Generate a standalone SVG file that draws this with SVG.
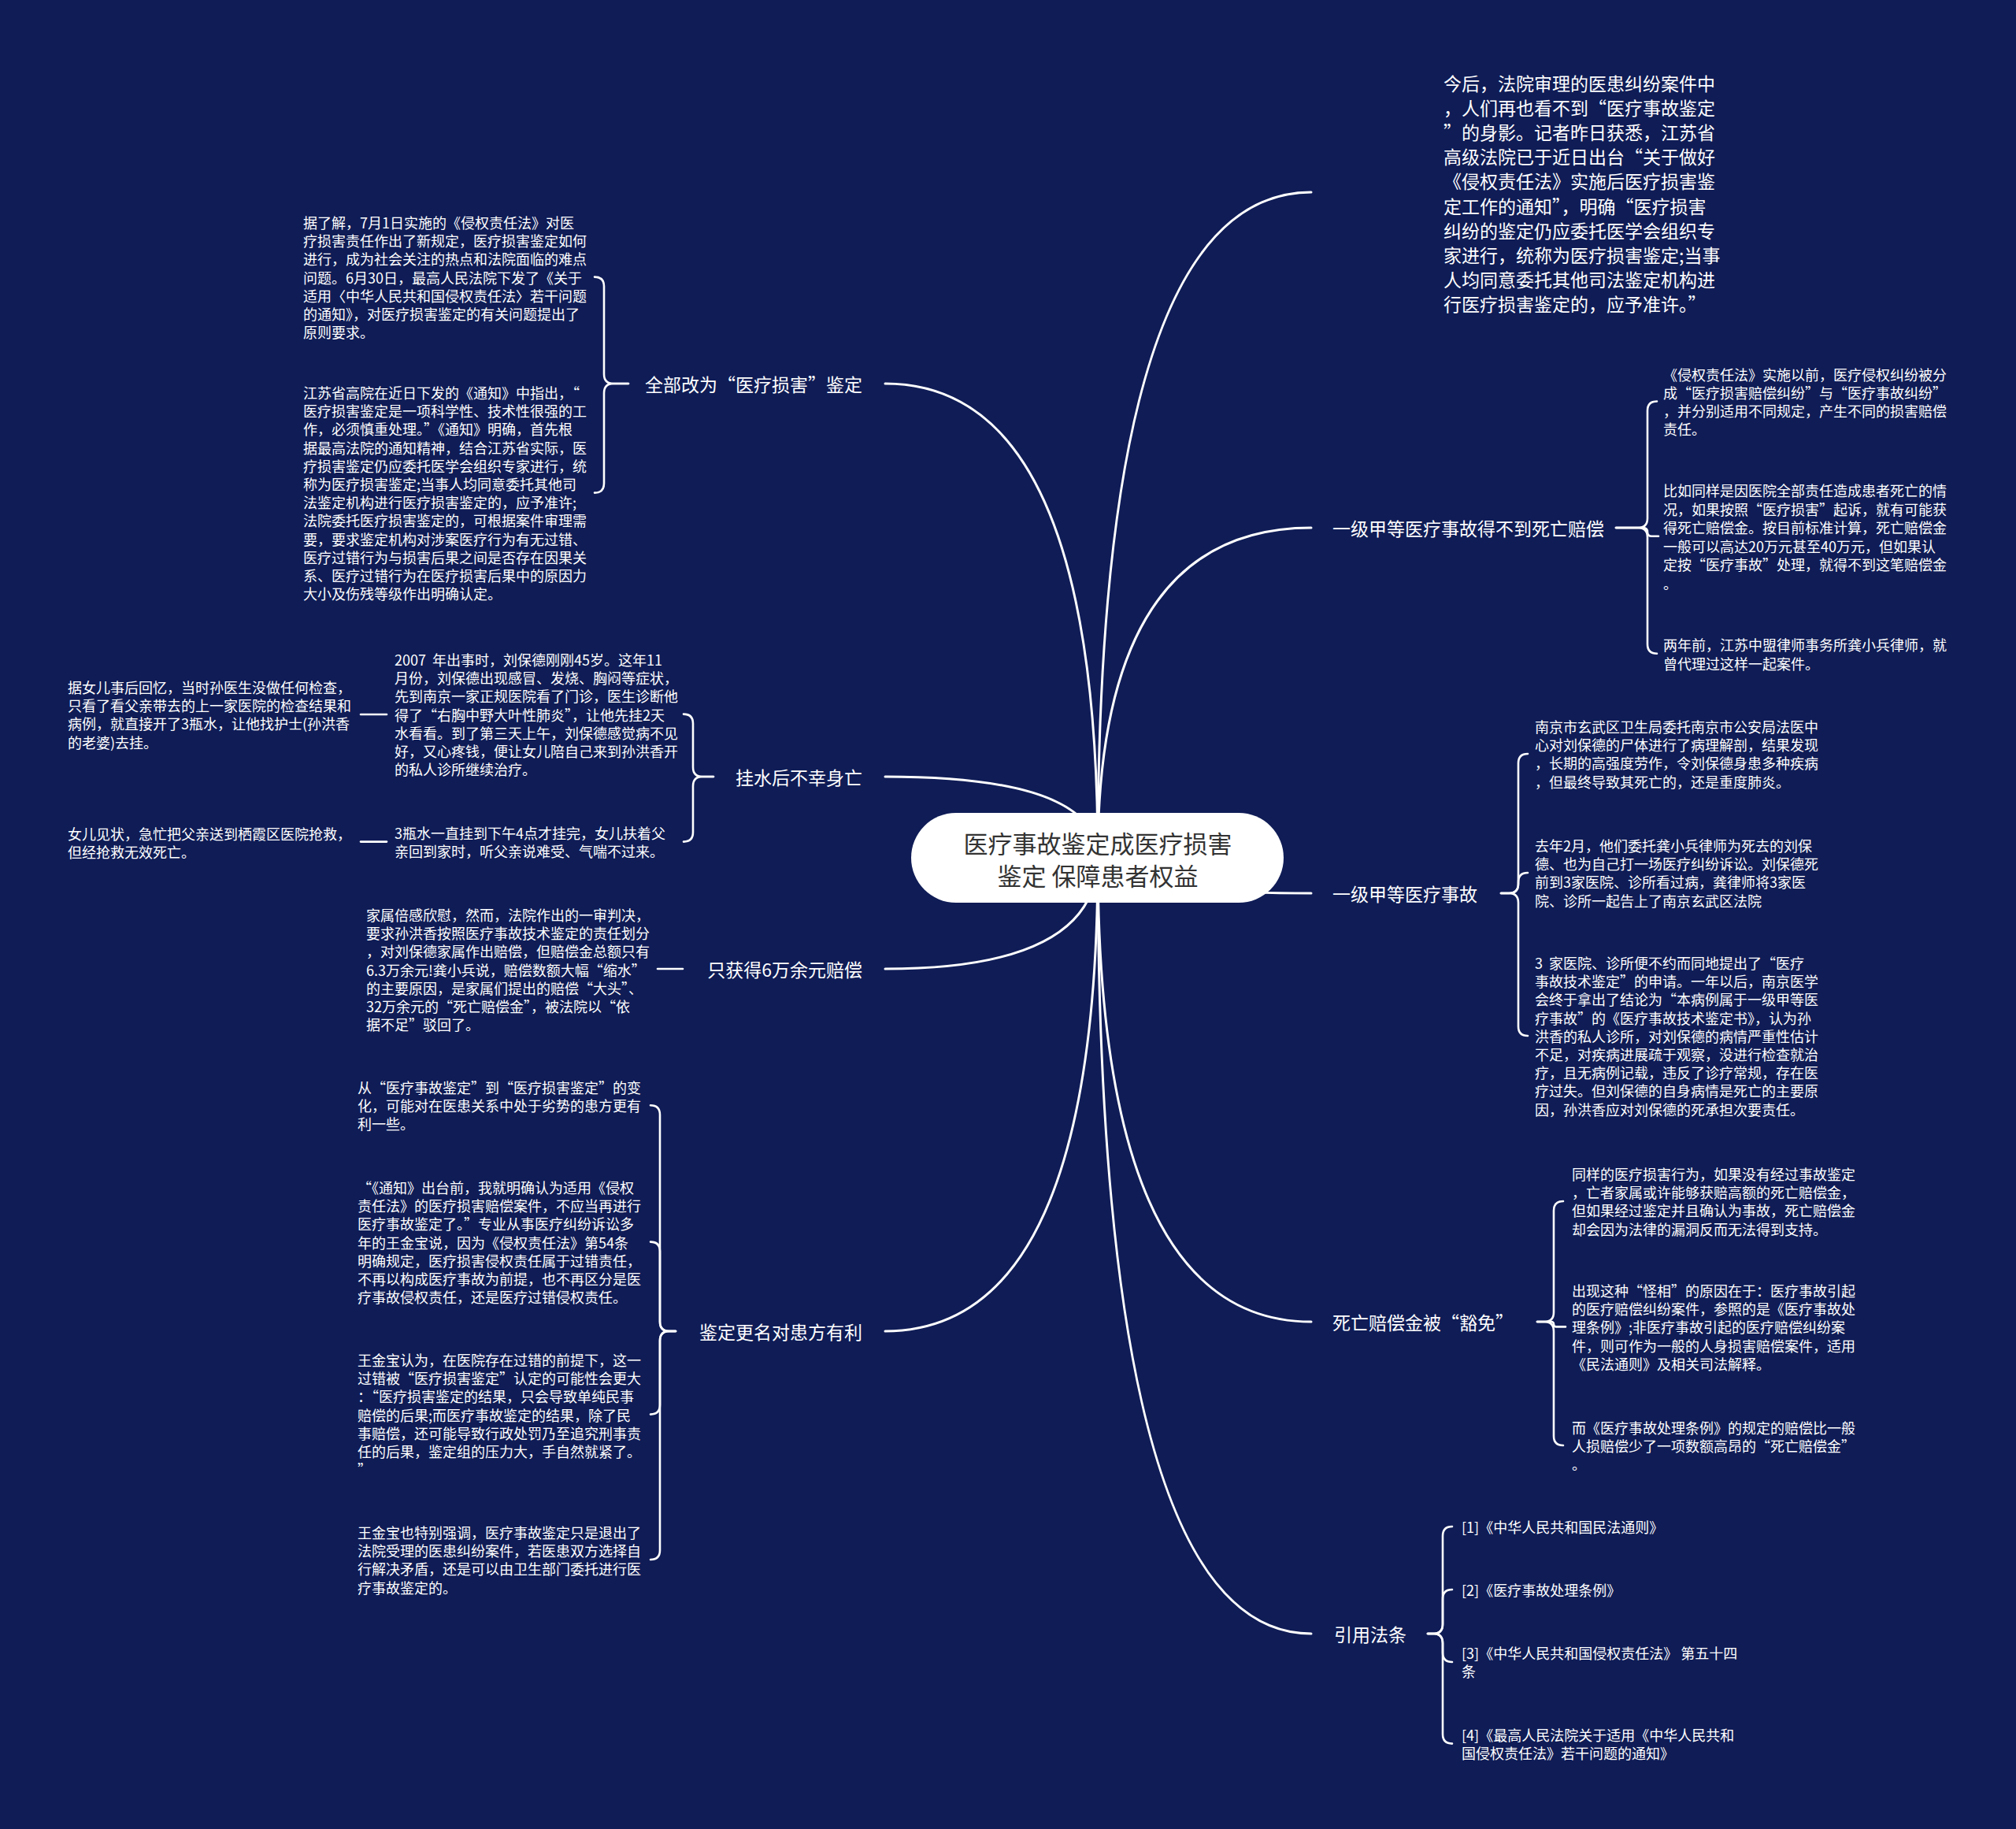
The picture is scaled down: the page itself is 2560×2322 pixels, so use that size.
<svg xmlns="http://www.w3.org/2000/svg" width="2560" height="2322" viewBox="0 0 2560 2322">
<style>
text{font-family:"Noto Sans CJK SC","Microsoft YaHei",sans-serif;dominant-baseline:central;fill:#ffffff}
.conn{fill:none;stroke:#ffffff;stroke-width:3;stroke-linecap:round}
.br{fill:none;stroke:#ffffff;stroke-width:2.6;stroke-linecap:round;stroke-linejoin:round}
.lbl{font-size:23px}
.para{font-size:23px}
.leaf{font-size:18px}
.pre{white-space:pre}
.root-t{font-size:31px;fill:#333333}
</style>
<rect x="0" y="0" width="2560" height="2322" fill="#0f1c56"/>
<g id="connectors">
<path class="conn" d="M1394,1088 Q1394,244 1665,244"/>
<path class="conn" d="M1394,1088 Q1394,670 1665,670"/>
<path class="conn" d="M1394,1088 Q1394,1134 1665,1134"/>
<path class="conn" d="M1394,1088 Q1394,1678 1665,1678"/>
<path class="conn" d="M1394,1088 Q1394,2074 1665,2074"/>
<path class="conn" d="M1394,1088 Q1394,487 1124,487"/>
<path class="conn" d="M1394,1088 Q1394,986 1124,986"/>
<path class="conn" d="M1394,1088 Q1394,1230 1124,1230"/>
<path class="conn" d="M1394,1088 Q1394,1690 1124,1690"/>
<path class="br" d="M798,487 L779,487 Q767,487 767,475 L767,363.6 Q767,351.6 755,351.6"/>
<path class="br" d="M798,487 L779,487 Q767,487 767,499 L767,613.6 Q767,625.6 755,625.6"/>
<path class="br" d="M906,986 L892,986 Q880,986 880,974 L880,918.6 Q880,906.6 868,906.6"/>
<path class="br" d="M906,986 L892,986 Q880,986 880,998 L880,1056.6 Q880,1068.6 868,1068.6"/>
<path class="br" d="M491,907 L458,907"/>
<path class="br" d="M491,1068.6 L458,1068.6"/>
<path class="br" d="M867,1230 L835,1230"/>
<path class="br" d="M858,1690 L850,1690 Q838,1690 838,1678 L838,1415.2 Q838,1403.2 826,1403.2"/>
<path class="br" d="M858,1690 L850,1690 Q838,1690 838,1678 L838,1588.6 Q838,1576.6 826,1576.6"/>
<path class="br" d="M858,1690 L850,1690 Q838,1690 838,1702 L838,1783.6 Q838,1795.6 826,1795.6"/>
<path class="br" d="M858,1690 L850,1690 Q838,1690 838,1702 L838,1968 Q838,1980 826,1980"/>
<path class="br" d="M2052,670 L2080,670 Q2092,670 2092,658 L2092,521.5 Q2092,509.5 2104,509.5"/>
<path class="br" d="M2052,670 L2086.6,670 Q2092,670 2092,675.4 Q2092,680.75 2097.4,680.75 L2106,680.75"/>
<path class="br" d="M2052,670 L2080,670 Q2092,670 2092,682 L2092,817.75 Q2092,829.75 2104,829.75"/>
<path class="br" d="M1906,1134 L1916,1134 Q1928,1134 1928,1122 L1928,969 Q1928,957 1940,957"/>
<path class="br" d="M1906,1134 L1916,1134 Q1928,1134 1928,1122 L1928,1120 Q1928,1108 1940,1108"/>
<path class="br" d="M1906,1134 L1916,1134 Q1928,1134 1928,1146 L1928,1303 Q1928,1315 1940,1315"/>
<path class="br" d="M1952,1678 L1961,1678 Q1973,1678 1973,1666 L1973,1537 Q1973,1525 1985,1525"/>
<path class="br" d="M1952,1678 L1969.8,1678 Q1973,1678 1973,1681.2 Q1973,1684.4 1976.2,1684.4 L1988,1684.4"/>
<path class="br" d="M1952,1678 L1961,1678 Q1973,1678 1973,1690 L1973,1823 Q1973,1835 1985,1835"/>
<path class="br" d="M1813,2074 L1820,2074 Q1832,2074 1832,2062 L1832,1950 Q1832,1938 1844,1938"/>
<path class="br" d="M1813,2074 L1820,2074 Q1832,2074 1832,2062 L1832,2030 Q1832,2018 1844,2018"/>
<path class="br" d="M1813,2074 L1820,2074 Q1832,2074 1832,2086 L1832,2098 Q1832,2110 1844,2110"/>
<path class="br" d="M1813,2074 L1820,2074 Q1832,2074 1832,2086 L1832,2201.6 Q1832,2213.6 1844,2213.6"/>
</g>
<g id="root">
<rect x="1157" y="1032" width="473" height="114" rx="57" ry="57" fill="#ffffff"/>
<text class="root-t" text-anchor="middle"><tspan x="1394" y="1069">医疗事故鉴定成医疗损害</tspan><tspan x="1394" y="1110">鉴定 保障患者权益</tspan></text>
</g>
<g id="r0">
<text class="para"><tspan x="1833" y="105">今后，法院审理的医患纠纷案件中</tspan><tspan x="1833" y="136.1">，人们再也看不到“医疗事故鉴定</tspan><tspan x="1833" y="167.2">”的身影。记者昨日获悉，江苏省</tspan><tspan x="1833" y="198.3">高级法院已于近日出台“关于做好</tspan><tspan x="1833" y="229.4">《侵权责任法》实施后医疗损害鉴</tspan><tspan x="1833" y="260.5">定工作的通知”，明确“医疗损害</tspan><tspan x="1833" y="291.6">纠纷的鉴定仍应委托医学会组织专</tspan><tspan x="1833" y="322.7">家进行，统称为医疗损害鉴定;当事</tspan><tspan x="1833" y="353.8">人均同意委托其他司法鉴定机构进</tspan><tspan x="1833" y="384.9">行医疗损害鉴定的，应予准许。”</tspan></text>
</g>
<g id="r1">
<text class="lbl" x="1692" y="670">一级甲等医疗事故得不到死亡赔偿</text>
</g>
<g id="r1c1">
<text class="leaf"><tspan x="2112" y="475">《侵权责任法》实施以前，医疗侵权纠纷被分</tspan><tspan x="2112" y="498">成“医疗损害赔偿纠纷”与“医疗事故纠纷”</tspan><tspan x="2112" y="521">，并分别适用不同规定，产生不同的损害赔偿</tspan><tspan x="2112" y="544">责任。</tspan></text>
</g>
<g id="r1c2">
<text class="leaf"><tspan x="2112" y="622">比如同样是因医院全部责任造成患者死亡的情</tspan><tspan x="2112" y="645.5">况，如果按照“医疗损害”起诉，就有可能获</tspan><tspan x="2112" y="669">得死亡赔偿金。按目前标准计算，死亡赔偿金</tspan><tspan x="2112" y="692.5">一般可以高达20万元甚至40万元，但如果认</tspan><tspan x="2112" y="716">定按“医疗事故”处理，就得不到这笔赔偿金</tspan><tspan x="2112" y="739.5">。</tspan></text>
</g>
<g id="r1c3">
<text class="leaf"><tspan x="2112" y="818">两年前，江苏中盟律师事务所龚小兵律师，就</tspan><tspan x="2112" y="841.5">曾代理过这样一起案件。</tspan></text>
</g>
<g id="r2">
<text class="lbl" x="1692" y="1134">一级甲等医疗事故</text>
</g>
<g id="r2c1">
<text class="leaf"><tspan x="1949" y="922">南京市玄武区卫生局委托南京市公安局法医中</tspan><tspan x="1949" y="945.2">心对刘保德的尸体进行了病理解剖，结果发现</tspan><tspan x="1949" y="968.4">，长期的高强度劳作，令刘保德身患多种疾病</tspan><tspan x="1949" y="991.6">，但最终导致其死亡的，还是重度肺炎。</tspan></text>
</g>
<g id="r2c2">
<text class="leaf"><tspan x="1949" y="1073">去年2月，他们委托龚小兵律师为死去的刘保</tspan><tspan x="1949" y="1096.2">德、也为自己打一场医疗纠纷诉讼。刘保德死</tspan><tspan x="1949" y="1119.4">前到3家医院、诊所看过病，龚律师将3家医</tspan><tspan x="1949" y="1142.6">院、诊所一起告上了南京玄武区法院</tspan></text>
</g>
<g id="r2c3">
<text class="leaf"><tspan class="pre" x="1949" y="1222">3  家医院、诊所便不约而同地提出了“医疗</tspan><tspan x="1949" y="1245.2">事故技术鉴定”的申请。一年以后，南京医学</tspan><tspan x="1949" y="1268.4">会终于拿出了结论为“本病例属于一级甲等医</tspan><tspan x="1949" y="1291.6">疗事故”的《医疗事故技术鉴定书》，认为孙</tspan><tspan x="1949" y="1314.8">洪香的私人诊所，对刘保德的病情严重性估计</tspan><tspan x="1949" y="1338">不足，对疾病进展疏于观察，没进行检查就治</tspan><tspan x="1949" y="1361.2">疗，且无病例记载，违反了诊疗常规，存在医</tspan><tspan x="1949" y="1384.4">疗过失。但刘保德的自身病情是死亡的主要原</tspan><tspan x="1949" y="1407.6">因，孙洪香应对刘保德的死承担次要责任。</tspan></text>
</g>
<g id="r3">
<text class="lbl" x="1692" y="1678">死亡赔偿金被“豁免”</text>
</g>
<g id="r3c1">
<text class="leaf"><tspan x="1996" y="1490">同样的医疗损害行为，如果没有经过事故鉴定</tspan><tspan x="1996" y="1513.2">，亡者家属或许能够获赔高额的死亡赔偿金，</tspan><tspan x="1996" y="1536.4">但如果经过鉴定并且确认为事故，死亡赔偿金</tspan><tspan x="1996" y="1559.6">却会因为法律的漏洞反而无法得到支持。</tspan></text>
</g>
<g id="r3c2">
<text class="leaf"><tspan x="1996" y="1638">出现这种“怪相”的原因在于：医疗事故引起</tspan><tspan x="1996" y="1661.2">的医疗赔偿纠纷案件，参照的是《医疗事故处</tspan><tspan x="1996" y="1684.4">理条例》;非医疗事故引起的医疗赔偿纠纷案</tspan><tspan x="1996" y="1707.6">件，则可作为一般的人身损害赔偿案件，适用</tspan><tspan x="1996" y="1730.8">《民法通则》及相关司法解释。</tspan></text>
</g>
<g id="r3c3">
<text class="leaf"><tspan x="1996" y="1812">而《医疗事故处理条例》的规定的赔偿比一般</tspan><tspan x="1996" y="1835.2">人损赔偿少了一项数额高昂的“死亡赔偿金”</tspan><tspan x="1996" y="1858.4">。</tspan></text>
</g>
<g id="r4">
<text class="lbl" x="1694" y="2074">引用法条</text>
</g>
<g id="r4c1"><text class="leaf" x="1856" y="1938">[1]《中华人民共和国民法通则》</text></g>
<g id="r4c2"><text class="leaf" x="1856" y="2018">[2]《医疗事故处理条例》</text></g>
<g id="r4c3"><text class="leaf"><tspan x="1856" y="2098">[3]《中华人民共和国侵权责任法》 第五十四</tspan><tspan x="1856" y="2121.2">条</tspan></text></g>
<g id="r4c4"><text class="leaf"><tspan x="1856" y="2202">[4]《最高人民法院关于适用《中华人民共和</tspan><tspan x="1856" y="2225.2">国侵权责任法》若干问题的通知》</tspan></text></g>
<g id="l1">
<text class="lbl" x="1095" y="487" text-anchor="end">全部改为“医疗损害”鉴定</text>
</g>
<g id="l1c1">
<text class="leaf"><tspan x="385" y="282">据了解，7月1日实施的《侵权责任法》对医</tspan><tspan x="385" y="305.2">疗损害责任作出了新规定，医疗损害鉴定如何</tspan><tspan x="385" y="328.4">进行，成为社会关注的热点和法院面临的难点</tspan><tspan x="385" y="351.6">问题。6月30日，最高人民法院下发了《关于</tspan><tspan x="385" y="374.8">适用〈中华人民共和国侵权责任法〉若干问题</tspan><tspan x="385" y="398">的通知》，对医疗损害鉴定的有关问题提出了</tspan><tspan x="385" y="421.2">原则要求。</tspan></text>
</g>
<g id="l1c2">
<text class="leaf"><tspan x="385" y="498">江苏省高院在近日下发的《通知》中指出，“</tspan><tspan x="385" y="521.2">医疗损害鉴定是一项科学性、技术性很强的工</tspan><tspan x="385" y="544.4">作，必须慎重处理。”《通知》明确，首先根</tspan><tspan x="385" y="567.6">据最高法院的通知精神，结合江苏省实际，医</tspan><tspan x="385" y="590.8">疗损害鉴定仍应委托医学会组织专家进行，统</tspan><tspan x="385" y="614">称为医疗损害鉴定;当事人均同意委托其他司</tspan><tspan x="385" y="637.2">法鉴定机构进行医疗损害鉴定的，应予准许;</tspan><tspan x="385" y="660.4">法院委托医疗损害鉴定的，可根据案件审理需</tspan><tspan x="385" y="683.6">要，要求鉴定机构对涉案医疗行为有无过错、</tspan><tspan x="385" y="706.8">医疗过错行为与损害后果之间是否存在因果关</tspan><tspan x="385" y="730">系、医疗过错行为在医疗损害后果中的原因力</tspan><tspan x="385" y="753.2">大小及伤残等级作出明确认定。</tspan></text>
</g>
<g id="l2">
<text class="lbl" x="1095" y="986" text-anchor="end">挂水后不幸身亡</text>
</g>
<g id="l2c1">
<text class="leaf"><tspan class="pre" x="501" y="837">2007  年出事时，刘保德刚刚45岁。这年11</tspan><tspan x="501" y="860.2">月份，刘保德出现感冒、发烧、胸闷等症状，</tspan><tspan x="501" y="883.4">先到南京一家正规医院看了门诊，医生诊断他</tspan><tspan x="501" y="906.6">得了“右胸中野大叶性肺炎”，让他先挂2天</tspan><tspan x="501" y="929.8">水看看。到了第三天上午，刘保德感觉病不见</tspan><tspan x="501" y="953">好，又心疼钱，便让女儿陪自己来到孙洪香开</tspan><tspan x="501" y="976.2">的私人诊所继续治疗。</tspan></text>
</g>
<g id="l2c1a">
<text class="leaf"><tspan x="86" y="872">据女儿事后回忆，当时孙医生没做任何检查，</tspan><tspan x="86" y="895.2">只看了看父亲带去的上一家医院的检查结果和</tspan><tspan x="86" y="918.4">病例，就直接开了3瓶水，让他找护士(孙洪香</tspan><tspan x="86" y="941.6">的老婆)去挂。</tspan></text>
</g>
<g id="l2c2">
<text class="leaf"><tspan x="501" y="1057">3瓶水一直挂到下午4点才挂完，女儿扶着父</tspan><tspan x="501" y="1080.2">亲回到家时，听父亲说难受、气喘不过来。</tspan></text>
</g>
<g id="l2c2a">
<text class="leaf"><tspan x="86" y="1058">女儿见状，急忙把父亲送到栖霞区医院抢救，</tspan><tspan x="86" y="1081.2">但经抢救无效死亡。</tspan></text>
</g>
<g id="l3">
<text class="lbl" x="1095" y="1230" text-anchor="end">只获得6万余元赔偿</text>
</g>
<g id="l3c1">
<text class="leaf"><tspan x="465" y="1161">家属倍感欣慰，然而，法院作出的一审判决，</tspan><tspan x="465" y="1184.2">要求孙洪香按照医疗事故技术鉴定的责任划分</tspan><tspan x="465" y="1207.4">，对刘保德家属作出赔偿，但赔偿金总额只有</tspan><tspan x="465" y="1230.6">6.3万余元!龚小兵说，赔偿数额大幅“缩水”</tspan><tspan x="465" y="1253.8">的主要原因，是家属们提出的赔偿“大头”、</tspan><tspan x="465" y="1277">32万余元的“死亡赔偿金”，被法院以“依</tspan><tspan x="465" y="1300.2">据不足”驳回了。</tspan></text>
</g>
<g id="l4">
<text class="lbl" x="1095" y="1690" text-anchor="end">鉴定更名对患方有利</text>
</g>
<g id="l4c1">
<text class="leaf"><tspan x="454" y="1380">从“医疗事故鉴定”到“医疗损害鉴定”的变</tspan><tspan x="454" y="1403.2">化，可能对在医患关系中处于劣势的患方更有</tspan><tspan x="454" y="1426.4">利一些。</tspan></text>
</g>
<g id="l4c2">
<text class="leaf"><tspan x="454" y="1507">“《通知》出台前，我就明确认为适用《侵权</tspan><tspan x="454" y="1530.2">责任法》的医疗损害赔偿案件，不应当再进行</tspan><tspan x="454" y="1553.4">医疗事故鉴定了。”专业从事医疗纠纷诉讼多</tspan><tspan x="454" y="1576.6">年的王金宝说，因为《侵权责任法》第54条</tspan><tspan x="454" y="1599.8">明确规定，医疗损害侵权责任属于过错责任，</tspan><tspan x="454" y="1623">不再以构成医疗事故为前提，也不再区分是医</tspan><tspan x="454" y="1646.2">疗事故侵权责任，还是医疗过错侵权责任。</tspan></text>
</g>
<g id="l4c3">
<text class="leaf"><tspan x="454" y="1726">王金宝认为，在医院存在过错的前提下，这一</tspan><tspan x="454" y="1749.2">过错被“医疗损害鉴定”认定的可能性会更大</tspan><tspan x="454" y="1772.4">：“医疗损害鉴定的结果，只会导致单纯民事</tspan><tspan x="454" y="1795.6">赔偿的后果;而医疗事故鉴定的结果，除了民</tspan><tspan x="454" y="1818.8">事赔偿，还可能导致行政处罚乃至追究刑事责</tspan><tspan x="454" y="1842">任的后果，鉴定组的压力大，手自然就紧了。</tspan><tspan x="454" y="1865.2">”</tspan></text>
</g>
<g id="l4c4">
<text class="leaf"><tspan x="454" y="1945">王金宝也特别强调，医疗事故鉴定只是退出了</tspan><tspan x="454" y="1968.2">法院受理的医患纠纷案件，若医患双方选择自</tspan><tspan x="454" y="1991.4">行解决矛盾，还是可以由卫生部门委托进行医</tspan><tspan x="454" y="2014.6">疗事故鉴定的。</tspan></text>
</g>
</svg>
